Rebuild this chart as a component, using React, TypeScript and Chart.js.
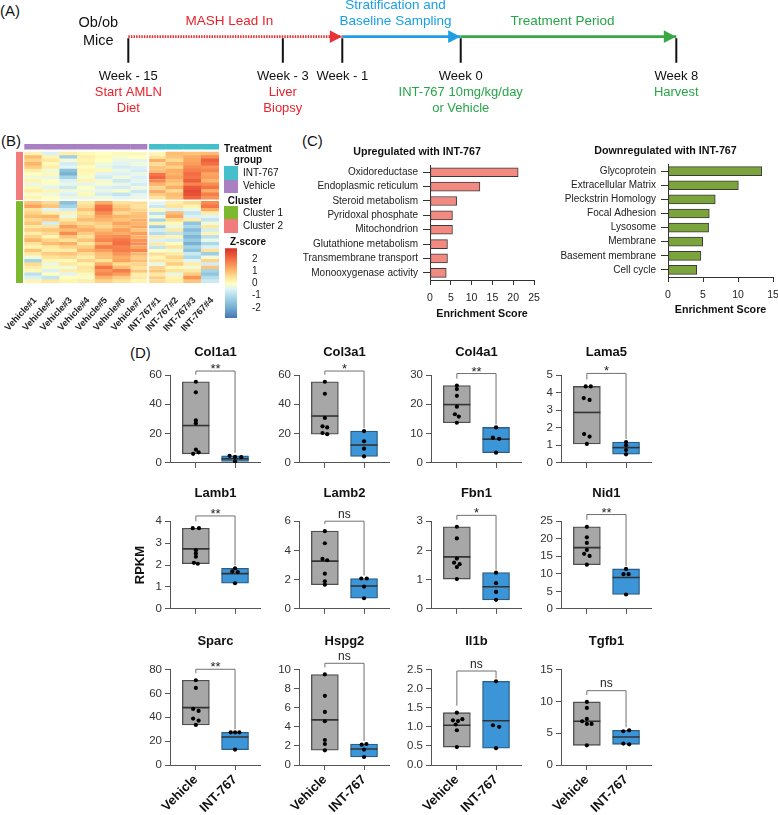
import React, { useEffect, useRef } from 'react';
import { Chart, registerables } from 'chart.js';

Chart.register(...registerables);

const FONT = 'Arial, "Liberation Sans", Helvetica, sans-serif';
Chart.defaults.font.family = FONT;
Chart.defaults.color = '#222';

// ---------------- Panel A : study timeline ----------------
const milestoneLabels = ['Week - 15', 'Week - 3', 'Week - 1', 'Week 0', 'Week 8'];
const milestoneSlot = [0, 28.2, 39.05, 60.66, 100];
const milestoneNotes = [['Start AMLN', 'Diet'], ['Liver', 'Biopsy'], [], ['INT-767 10mg/kg/day', 'or Vehicle'], ['Harvest']];
const milestoneNoteColor = ['#E8232B', '#E8232B', '#E8232B', '#27A548', '#27A548'];
const phaseLabels = [['MASH Lead In'], ['Stratification and', 'Baseline Sampling'], ['Treatment Period']];
const phaseStart = [0, 2, 3];
const phaseEnd = [2, 3, 4];
const phaseColors = ['#E8323A', '#1E9EE2', '#38A844'];
const phaseTextColors = ['#E8232B', '#1A9FE3', '#27A548'];

// ---------------- Panel B : heatmap ----------------
const sampleLabels = ['Vehicle#1', 'Vehicle#2', 'Vehicle#3', 'Vehicle#4', 'Vehicle#5', 'Vehicle#6', 'Vehicle#7', 'INT-767#1', 'INT-767#2', 'INT-767#3', 'INT-767#4'];
const sampleGroup = ['Vehicle', 'Vehicle', 'Vehicle', 'Vehicle', 'Vehicle', 'Vehicle', 'Vehicle', 'INT-767', 'INT-767', 'INT-767', 'INT-767'];
const groupColor: Record<string, string> = { 'Vehicle': '#A981C2', 'INT-767': '#45BFCA' };
const clusterColor = { c1: '#7DB92F', c2: '#F07C7C' };
// Cluster 2 (top block), rows top -> bottom, columns V1..V7, I1..I4
const cluster2Z = [
  [0.2, -0.5, 0.3, 0.1, 0.0, 0.1, 0.2, 0.2, 1.0, 0.9, 1.0],
  [1.0, 0.2, -1.3, 0.3, 0.1, -0.1, 0.0, 0.5, 0.9, 1.2, 1.6],
  [0.7, 0.4, -0.2, 0.2, 0.0, -0.3, -0.4, 1.2, 0.6, 1.3, 2.2],
  [1.1, 0.1, -0.6, 0.3, -0.2, -0.4, -0.2, 0.6, 1.1, 1.4, 2.0],
  [0.8, 0.3, -0.4, 0.0, -0.3, -0.6, -0.5, 0.9, 0.7, 1.6, 1.5],
  [0.3, -0.2, -1.6, 0.2, 0.1, -0.3, -0.6, 1.0, 1.2, 1.8, 1.7],
  [0.0, 0.1, -1.9, 0.1, -0.4, -0.5, -0.3, 1.9, 1.1, 2.0, 1.3],
  [-0.2, -0.3, -1.2, -0.1, -0.6, -0.2, -0.5, 2.1, 1.3, 1.9, 1.4],
  [0.2, 0.0, -0.5, 0.2, -0.2, -0.7, -0.4, 1.7, 1.0, 2.2, 1.1],
  [-0.3, -0.1, -0.3, -0.4, -0.1, -0.3, -0.6, 1.1, 0.8, 1.7, 1.6],
  [0.1, -0.4, -0.7, 0.0, -0.5, -0.6, -0.2, 0.7, 1.2, 2.3, 1.9],
  [0.3, 0.2, -0.2, -0.2, -0.3, -0.1, -0.7, 1.2, 0.6, 2.5, 1.2],
  [-0.1, -0.2, -0.5, 0.1, -0.6, -0.8, -0.4, 0.8, 1.0, 2.4, 1.8],
  [0.2, 0.0, -0.3, -0.3, -0.2, -0.4, -0.3, 0.5, 0.9, 2.1, 1.5],
];
// Cluster 1 (bottom block), rows top -> bottom
const cluster1Z = [
  [0.9, 0.6, -1.6, 0.4, 1.2, 0.5, 0.6, -0.4, 0.3, 0.6, 1.6],
  [1.3, 0.9, -1.2, 0.6, 1.9, 0.8, 0.5, -0.7, 0.5, 0.2, 1.9],
  [0.5, -0.4, -0.6, 0.9, 2.0, 1.0, 0.7, 0.1, -0.5, -0.3, 1.2],
  [0.7, 0.3, 0.2, 0.5, 1.6, 0.6, 0.9, -0.9, 1.0, -0.8, 0.3],
  [1.0, 1.1, -0.3, 0.7, 1.3, 1.1, 1.0, -0.2, 1.3, -0.5, -0.4],
  [0.6, 0.8, 0.4, 1.0, 1.1, 0.9, 1.2, -1.2, 0.6, 0.3, -0.8],
  [0.9, -0.6, 0.8, 0.6, 0.8, 1.3, 1.1, 0.2, 0.1, -1.5, -0.2],
  [0.4, 0.5, 1.4, 0.9, 0.6, 1.0, 1.3, -1.4, -0.3, -1.1, 0.4],
  [0.8, 0.9, 1.0, 1.2, 1.0, 1.4, 0.9, -0.6, 0.4, -1.7, -0.6],
  [0.3, 0.6, 1.6, 0.8, 1.3, 1.2, 1.4, -1.0, -0.8, -1.3, 0.2],
  [0.7, 0.2, 0.9, 0.5, 1.5, 1.6, 1.2, 0.3, 0.2, -1.8, -0.9],
  [1.1, 0.7, 0.5, 0.9, 1.7, 1.9, 1.5, -0.5, -0.6, -1.4, -0.3],
  [0.5, 1.0, 1.2, 0.4, 1.2, 2.0, 1.6, 0.4, 0.0, -1.9, -1.1],
  [0.2, 0.4, 0.7, 0.8, 1.8, 1.7, 1.3, -0.8, 0.5, -1.2, -0.5],
  [0.9, 0.3, 0.3, 1.1, 1.4, 1.8, 1.7, 0.0, -0.2, -1.6, 0.5],
  [0.4, 0.8, 0.9, 0.6, 1.0, 1.5, 1.1, 0.6, 0.3, -0.7, -1.3],
  [-0.2, 0.5, 0.6, 0.3, 0.9, 1.2, 0.8, 0.2, 0.7, -1.1, -0.2],
  [-1.2, 0.2, 0.1, 0.7, 0.5, 1.3, 1.0, 0.5, 0.4, -0.4, 0.7],
  [0.6, -0.3, 0.4, 0.2, 1.2, 0.6, 0.7, -0.3, 0.8, 0.3, -0.6],
  [0.3, 0.1, -0.2, 0.5, 1.9, 1.0, 0.5, 0.7, 0.1, -0.2, 0.9],
  [0.1, -0.5, 0.3, 0.4, 1.5, 1.8, 0.9, 0.9, 0.5, 0.4, -1.2],
  [-0.9, 0.0, -0.4, 0.1, 1.7, 1.4, 0.3, 0.4, -0.3, 0.8, -1.5],
  [-0.5, -0.8, 0.0, -0.1, 1.1, 0.8, 0.4, 0.8, 0.2, 1.5, -1.0],
  [0.2, 0.4, 0.2, 0.3, 0.7, 0.5, 0.2, 0.6, 0.3, 0.9, -0.7],
];
const zScaleRange = [-2.83, 2.88];
const zTicks = [-2, -1, 0, 1, 2];

// ---------------- Panel C : enrichment ----------------
const upTerms = ['Oxidoreductase', 'Endoplasmic reticulum', 'Steroid metabolism', 'Pyridoxal phosphate', 'Mitochondrion', 'Glutathione metabolism', 'Transmembrane transport', 'Monooxygenase activity'];
const upScores = [21.2, 12.0, 6.4, 5.4, 5.4, 4.2, 4.2, 3.9];
const downTerms = ['Glycoprotein', 'Extracellular Matrix', 'Pleckstrin Homology', 'Focal Adhesion', 'Lysosome', 'Membrane', 'Basement membrane', 'Cell cycle'];
const downScores = [13.4, 10.05, 6.75, 5.9, 5.8, 4.95, 4.7, 4.1];

// ---------------- Panel D : RPKM box plots ----------------
const genes = ['Col1a1', 'Col3a1', 'Col4a1', 'Lama5', 'Lamb1', 'Lamb2', 'Fbn1', 'Nid1', 'Sparc', 'Hspg2', 'Il1b', 'Tgfb1'];
const groups = ['Vehicle', 'INT-767'];
const vehicleRPKM = [
  [55.4, 48.2, 29, 27, 9, 7.2, 6.2],
  [55.4, 47.2, 30.7, 25, 24.2, 20.4, 19.6],
  [26.4, 25.2, 22.9, 19.2, 16.6, 15.8, 13.7],
  [4.35, 4.35, 3.69, 3.58, 1.64, 1.5, 1.08],
  [3.68, 3.68, 2.67, 2.53, 2.38, 2.1, 2.06],
  [5.32, 4.49, 3.42, 3.33, 2.41, 1.89, 1.66],
  [2.81, 2.41, 1.72, 1.58, 1.53, 1.43, 1.02],
  [23.4, 20.4, 18.8, 16.8, 15.7, 15.1, 12.6],
  [71, 64.6, 47, 45.3, 38.9, 37.2, 33.6],
  [9.48, 7.24, 5.56, 4.58, 2.62, 2.2, 1.54],
  [1.37, 1.2, 1.17, 1.15, 1.06, 0.91, 0.47],
  [9.91, 8.97, 7.24, 6.87, 6.45, 6.45, 3.09],
];
const int767RPKM = [
  [4.8, 4.1, 3.9, 1.0],
  [21.7, 14.7, 9.7, 4.4],
  [12.1, 8.6, 8.2, 3.5],
  [1.19, 1.0, 0.73, 0.49],
  [1.85, 1.71, 1.68, 1.17],
  [2.08, 2.08, 1.53, 0.73],
  [1.24, 0.88, 0.58, 0.31],
  [11.4, 9.9, 9.9, 4.1],
  [27.4, 27.4, 27.4, 12.9],
  [2.2, 2.13, 1.61, 0.84],
  [2.19, 1.04, 1.0, 0.44],
  [5.45, 5.3, 3.36, 3.25],
];
const vehicleMean = [25.5, 32, 19.9, 2.87, 2.74, 3.27, 1.78, 17.47, 48.1, 4.72, 1.04, 6.87];
const int767Mean = [2.8, 12.2, 8.1, 0.87, 1.61, 1.57, 0.76, 8.95, 23.5, 1.68, 1.16, 4.4];
const vehicleJitter = [
  [0, 0, 0, 0, 0, 0.07, -0.07],
  [0, 0, 0, -0.06, 0.06, -0.06, 0.06],
  [0, 0, 0, 0, -0.05, 0.05, 0],
  [-0.03, 0.1, -0.08, 0.07, -0.07, 0.07, 0],
  [-0.08, 0.08, 0, 0, 0, -0.05, 0.05],
  [0, 0, -0.06, 0.06, 0, 0, 0],
  [0, 0, 0, -0.07, 0.07, 0, 0],
  [0, 0, 0, 0, -0.07, 0.07, 0],
  [0, 0, -0.07, 0.07, -0.07, 0.07, 0],
  [0, 0, 0, 0, 0, 0, 0],
  [0, 0.14, -0.1, 0.03, -0.03, 0, 0],
  [0, 0, 0, -0.12, 0, 0.12, 0],
];
const int767Jitter = [
  [-0.14, 0, 0.16, 0],
  [0, 0, 0, 0],
  [0, -0.08, 0.08, 0],
  [0, 0, 0, 0],
  [0, -0.07, 0.07, 0],
  [-0.07, 0.07, 0, 0],
  [0, 0, 0, 0],
  [0, -0.065, 0.065, 0],
  [-0.11, 0, 0.11, 0],
  [0.06, -0.06, 0, 0],
  [0, -0.08, 0.08, 0],
  [0.08, -0.07, -0.07, 0.08],
];
const yAxisMax = [60, 60, 30, 5, 4, 6, 3, 25, 80, 10, 2.5, 15];
const yAxisStep = [20, 20, 10, 1, 1, 2, 1, 5, 20, 2, 0.5, 5];
const yTickDecimals = [0, 0, 0, 0, 0, 0, 0, 0, 0, 0, 1, 0];
const sigLabels = ['**', '*', '**', '*', '**', 'ns', '*', '**', '**', 'ns', 'ns', 'ns'];
const sigHeight = [62.7, 62.7, 30.5, 5.09, 4.24, 6.0, 3.2, 26.9, 80.2, 10.65, 2.46, 11.67];

// ---------------- helpers ----------------
const zStops: [number, string][] = [
  [-2.83, '#4575B4'], [-2, '#74ADD1'], [-1.1, '#ABD9E9'], [-0.45, '#E0F3F8'], [0, '#FFFFBF'],
  [0.5, '#FEE39A'], [1.1, '#FDB56A'], [2, '#F46D43'], [2.88, '#D73027'],
];
function hexRgb(h: string) {
  return [parseInt(h.slice(1, 3), 16), parseInt(h.slice(3, 5), 16), parseInt(h.slice(5, 7), 16)];
}
function zColor(z: number) {
  const v = Math.max(zStops[0][0], Math.min(zStops[zStops.length - 1][0], z));
  for (let k = 0; k < zStops.length - 1; k++) {
    const [a, ca] = zStops[k];
    const [b, cb] = zStops[k + 1];
    if (v >= a && v <= b) {
      const t = (v - a) / (b - a);
      const A = hexRgb(ca), B = hexRgb(cb);
      return `rgb(${Math.round(A[0] + (B[0] - A[0]) * t)},${Math.round(A[1] + (B[1] - A[1]) * t)},${Math.round(A[2] + (B[2] - A[2]) * t)})`;
    }
  }
  return zStops[0][1];
}

function ChartCanvas({ x, y, w, h, make }: any) {
  const ref = useRef<HTMLCanvasElement>(null);
  useEffect(() => {
    const chart = new Chart(ref.current as HTMLCanvasElement, make());
    return () => chart.destroy();
  }, []);
  return <canvas ref={ref} width={w} height={h} style={{ position: 'absolute', left: x, top: y, width: w, height: h }} />;
}

function Txt({ x, y, s, b, c, a, children }: any) {
  const style: any = {
    position: 'absolute', top: y - s * 0.6, fontSize: s, lineHeight: `${s * 1.2}px`,
    fontWeight: b ? 'bold' : 'normal', color: c || '#111', whiteSpace: 'nowrap', fontFamily: FONT,
  };
  if (a === 'center') { style.left = x - 150; style.width = 300; style.textAlign = 'center'; }
  else style.left = x;
  return <div style={style}>{children}</div>;
}

const noLegend = { legend: { display: false }, tooltip: { enabled: false } };

// ---------------- Panel A config ----------------
function timelineConfig() {
  const plugin = {
    id: 'timelineDeco',
    afterDatasetsDraw(chart: any) {
      const { ctx } = chart;
      const xs = chart.scales.x, ys = chart.scales.y;
      const y0 = ys.getPixelForValue(0);
      ctx.save();
      phaseEnd.forEach((e, k) => {
        const tip = xs.getPixelForValue(milestoneSlot[e]) - 0.5;
        ctx.fillStyle = phaseColors[k];
        ctx.beginPath();
        ctx.moveTo(tip, y0);
        ctx.lineTo(tip - 12, y0 - 6.3);
        ctx.lineTo(tip - 12, y0 + 6.3);
        ctx.closePath();
        ctx.fill();
      });
      ctx.textAlign = 'center';
      ctx.textBaseline = 'middle';
      phaseLabels.forEach((lines, k) => {
        const cx = (xs.getPixelForValue(milestoneSlot[phaseStart[k]]) + xs.getPixelForValue(milestoneSlot[phaseEnd[k]]) - 12) / 2;
        ctx.font = `13.5px ${FONT}`;
        ctx.fillStyle = phaseTextColors[k];
        lines.forEach((t, j) => ctx.fillText(t, cx, y0 - 15 - (lines.length - 1 - j) * 16.6));
      });
      milestoneLabels.forEach((t, m) => {
        const cx = xs.getPixelForValue(milestoneSlot[m]);
        ctx.font = `13px ${FONT}`;
        ctx.fillStyle = '#111';
        ctx.fillText(t, cx, y0 + 40);
        ctx.fillStyle = milestoneNoteColor[m];
        milestoneNotes[m].forEach((n, j) => ctx.fillText(n, cx, y0 + 55.7 + j * 16));
      });
      const sx = xs.getPixelForValue(milestoneSlot[0]);
      ctx.font = `14.5px ${FONT}`;
      ctx.fillStyle = '#111';
      ctx.fillText('Ob/ob', sx - 30, y0 - 14);
      ctx.fillText('Mice', sx - 30, y0 + 4);
      ctx.restore();
    },
  };
  return {
    type: 'line',
    data: {
      datasets: [
        ...phaseStart.map((s, k) => ({
          data: [{ x: milestoneSlot[s], y: 0 }, { x: milestoneSlot[phaseEnd[k]], y: 0 }],
          borderColor: phaseColors[k], borderWidth: 2.6, borderDash: k === 0 ? [1.5, 1.1] : [],
          pointRadius: 0, clip: false, tension: 0,
        })),
        ...milestoneSlot.map((s) => ({
          data: [{ x: s, y: -0.06 }, { x: s, y: -1 }],
          borderColor: '#111', borderWidth: 2, pointRadius: 0, clip: false,
        })),
      ],
    },
    options: {
      responsive: false, animation: false, events: [],
      layout: { padding: { left: 128.3, right: 101.7, top: 0, bottom: 0 } },
      plugins: noLegend,
      scales: {
        x: { type: 'linear', display: false, min: 0, max: 100 },
        y: { type: 'linear', display: false, min: -3.4, max: 1.41 },
      },
    },
    plugins: [plugin],
  };
}

// ---------------- Panel B configs ----------------
const HM_AXIS = 48;
const HM_CANVAS_H = 187;
const GAP_MID = 0.5, GAP_TOP = 0.65, ANNOT_H = 1.75;
const HM_TOTAL = cluster1Z.length + GAP_MID + cluster2Z.length + GAP_TOP + ANNOT_H;

function heatmapConfig() {
  const datasets: any[] = [];
  const cellBorder = (c: any) => (c.dataIndex === 6 ? { right: 1.2 } : c.dataIndex === 7 ? { left: 1.2 } : 0);
  const common = { stack: 'h', barPercentage: 1, categoryPercentage: 1, borderColor: '#ffffff', borderWidth: cellBorder, borderSkipped: false };
  const pushBlock = (Z: number[][]) => {
    for (let r = Z.length - 1; r >= 0; r--) {
      datasets.push({ ...common, data: Z[r].map(() => 1), backgroundColor: Z[r].map(zColor) });
    }
  };
  pushBlock(cluster1Z);
  datasets.push({ ...common, borderWidth: 0, data: sampleLabels.map(() => GAP_MID), backgroundColor: '#ffffff' });
  pushBlock(cluster2Z);
  datasets.push({ ...common, borderWidth: 0, data: sampleLabels.map(() => GAP_TOP), backgroundColor: '#ffffff' });
  datasets.push({ ...common, data: sampleLabels.map(() => ANNOT_H), backgroundColor: sampleGroup.map((g) => groupColor[g]) });
  return {
    type: 'bar',
    data: { labels: sampleLabels, datasets },
    options: {
      responsive: false, animation: false, events: [],
      layout: { padding: { left: 24.3, right: 3, top: 0, bottom: 0 } },
      plugins: noLegend,
      scales: {
        x: {
          stacked: true,
          grid: { display: false }, border: { display: false },
          ticks: { autoSkip: false, minRotation: 47, maxRotation: 47, padding: 4, labelOffset: 2, font: { size: 9.2, weight: 'bold' }, color: '#222' },
          afterFit: (s: any) => { s.height = HM_AXIS; s.paddingLeft = 0; s.paddingRight = 0; },
        },
        y: { stacked: true, display: false, min: 0, max: HM_TOTAL },
      },
    },
  };
}

function clusterBarConfig() {
  const common = { stack: 'c', barPercentage: 1, categoryPercentage: 1, borderWidth: 0 };
  return {
    type: 'bar',
    data: {
      labels: ['cluster'],
      datasets: [
        { ...common, data: [cluster1Z.length], backgroundColor: clusterColor.c1 },
        { ...common, data: [GAP_MID], backgroundColor: 'rgba(0,0,0,0)' },
        { ...common, data: [cluster2Z.length], backgroundColor: clusterColor.c2 },
      ],
    },
    options: {
      responsive: false, animation: false, events: [],
      layout: { padding: { left: 0, right: 0, top: 0, bottom: HM_AXIS } },
      plugins: noLegend,
      scales: { x: { stacked: true, display: false }, y: { stacked: true, display: false, min: 0, max: HM_TOTAL } },
    },
  };
}

function zLegendConfig() {
  return {
    type: 'bar',
    data: {
      labels: ['Z-score'],
      datasets: [{
        data: [[zScaleRange[0], zScaleRange[1]]],
        barPercentage: 1, categoryPercentage: 1, borderWidth: 0,
        backgroundColor: (c: any) => {
          const chart = c.chart;
          if (!chart.chartArea) return '#ccc';
          const ys = chart.scales.y;
          const top = ys.getPixelForValue(zScaleRange[1]);
          const bot = ys.getPixelForValue(zScaleRange[0]);
          const g = chart.ctx.createLinearGradient(0, bot, 0, top);
          zStops.forEach(([z, col]) => g.addColorStop((z - zScaleRange[0]) / (zScaleRange[1] - zScaleRange[0]), col));
          return g;
        },
      }],
    },
    options: {
      responsive: false, animation: false, events: [],
      layout: { padding: { left: 3, right: 0, top: 3.3, bottom: 3 } },
      plugins: noLegend,
      scales: {
        x: { display: false },
        y: {
          position: 'right', min: zScaleRange[0], max: zScaleRange[1],
          afterBuildTicks: (s: any) => { s.ticks = zTicks.map((v) => ({ value: v })); },
          ticks: { font: { size: 10 }, color: '#222', padding: 7 },
          grid: { display: false }, border: { display: false },
          afterFit: (s: any) => { s.width = 25; s.paddingTop = 0; s.paddingBottom = 0; },
        },
      },
    },
  };
}

// ---------------- Panel C configs ----------------
function enrichConfig(terms: string[], scores: number[], fill: string, title: string, xMax: number, yW: number, padR: number, xH: number) {
  return {
    type: 'bar',
    data: { labels: terms, datasets: [{ data: scores, backgroundColor: fill, borderColor: '#3a3a3a', borderWidth: 1, borderSkipped: false, barThickness: 9 }] },
    options: {
      indexAxis: 'y', responsive: false, animation: false, events: [],
      layout: { padding: { left: 0, right: padR, top: 0, bottom: 0 } },
      plugins: {
        ...noLegend,
        title: { display: true, text: title, color: '#111', font: { size: 10.7, weight: 'bold' }, padding: { top: 4, bottom: 6.2 } },
      },
      scales: {
        x: {
          min: 0, max: xMax,
          ticks: { stepSize: 5, font: { size: 10.5 }, color: '#222', padding: 7 },
          grid: { drawOnChartArea: false, drawTicks: true, tickLength: 5, color: '#333' },
          border: { display: true, color: '#333' },
          title: { display: true, text: 'Enrichment Score', color: '#111', font: { size: 10.7, weight: 'bold' }, padding: 0 },
          afterFit: (s: any) => { s.height = xH; s.paddingLeft = 0; s.paddingRight = 0; },
        },
        y: {
          ticks: { autoSkip: false, font: { size: 10 }, color: '#222', padding: 5 },
          grid: { offset: false, drawOnChartArea: false, drawTicks: true, tickLength: 7, color: '#333' },
          border: { display: true, color: '#333' },
          afterFit: (s: any) => { s.width = yW; s.paddingTop = 0; s.paddingBottom = 0; },
        },
      },
    },
  };
}

// ---------------- Panel D configs ----------------
const AXIS_W = 45;
const PLOT_W = 94;
const PAD_R = 12;
const colAxisX = [170, 299, 430.5, 561];
const rowCanvasTop = [340, 480.5, 629];
const rowTitlePadBottom = [15.2, 20.4, 20.7];
const rowCanvasH = [138, 143, 186];
const rowAxisH = [8, 8, 50];

function boxConfig(i: number) {
  const row = Math.floor(i / 4);
  const veh = vehicleRPKM[i], trt = int767RPKM[i];
  const vMin = Math.min(...veh), vMax = Math.max(...veh);
  const tMin = Math.min(...trt), tMax = Math.max(...trt);
  const bottom = row === 2;
  const sigPlugin = {
    id: 'sig' + i,
    afterDatasetsDraw(chart: any) {
      const { ctx } = chart;
      const xs = chart.scales.x, ys = chart.scales.y;
      const x0 = xs.getPixelForValue(0), x1 = xs.getPixelForValue(1);
      const yt = ys.getPixelForValue(sigHeight[i]);
      const yl = Math.max(yt + 2, ys.getPixelForValue(vMax) - 7);
      const yr = Math.max(yt + 2, ys.getPixelForValue(tMax) - 3);
      ctx.save();
      ctx.strokeStyle = '#707070';
      ctx.lineWidth = 1;
      ctx.beginPath();
      ctx.moveTo(x0, yl); ctx.lineTo(x0, yt); ctx.lineTo(x1, yt); ctx.lineTo(x1, yr);
      ctx.stroke();
      const ns = sigLabels[i] === 'ns';
      ctx.fillStyle = '#222';
      ctx.textAlign = 'center';
      ctx.textBaseline = 'alphabetic';
      ctx.font = `${ns ? 12 : 13}px ${FONT}`;
      ctx.fillText(sigLabels[i], (x0 + x1) / 2, ns ? yt - 3.5 : yt + 2);
      ctx.restore();
    },
  };
  const dots = [
    ...veh.map((v, k) => ({ x: vehicleJitter[i][k], y: v })),
    ...trt.map((v, k) => ({ x: 1 + int767Jitter[i][k], y: v })),
  ];
  return {
    type: 'bar',
    data: {
      datasets: [
        {
          type: 'bar', order: 3,
          data: [{ x: 0, y: [vMin, vMax] }, { x: 1, y: [tMin, tMax] }],
          backgroundColor: ['#A7A7A7', '#3C95D6'], borderColor: ['#4f4f4f', '#2B5E86'],
          borderWidth: 1.3, borderSkipped: false, barThickness: 27,
        },
        {
          type: 'scatter', order: 2,
          data: [{ x: 0, y: vehicleMean[i] }, { x: 1, y: int767Mean[i] }],
          pointStyle: 'line', pointRadius: 13.5, borderColor: '#333', borderWidth: 1.6, pointBorderWidth: 1.6, pointBorderColor: '#333',
        },
        {
          type: 'scatter', order: 1, data: dots,
          pointRadius: 2.1, pointBackgroundColor: '#000', pointBorderWidth: 0, backgroundColor: '#000',
        },
      ],
    },
    options: {
      responsive: false, animation: false, events: [],
      layout: { padding: { left: 0, right: PAD_R, top: 0, bottom: 0 } },
      plugins: {
        ...noLegend,
        title: {
          display: true, text: genes[i], fullSize: false, color: '#111',
          font: { size: 13, weight: 'bold' }, padding: { top: 4.2, bottom: rowTitlePadBottom[row] },
        },
      },
      scales: {
        x: {
          type: 'linear', min: -0.66, max: 1.66, offset: false,
          afterBuildTicks: (s: any) => { s.ticks = [{ value: 0 }, { value: 1 }]; },
          grid: { offset: false, drawOnChartArea: false, drawTicks: true, tickLength: 5, color: '#555' },
          border: { display: true, color: '#555' },
          ticks: {
            display: bottom, autoSkip: false, minRotation: 45, maxRotation: 45, padding: 2,
            font: { size: 13, weight: 'bold' }, color: '#111',
            callback: (v: any) => groups[Math.round(v)],
          },
          afterFit: (s: any) => { s.height = rowAxisH[row]; s.paddingLeft = 0; s.paddingRight = 0; },
        },
        y: {
          min: 0, max: yAxisMax[i],
          ticks: {
            stepSize: yAxisStep[i], font: { size: 11.5 }, color: '#333', padding: 3,
            callback: (v: any) => Number(v).toFixed(yTickDecimals[i]),
          },
          grid: { drawOnChartArea: false, drawTicks: true, tickLength: 5, color: '#555' },
          border: { display: true, color: '#555' },
          title: i === 4
            ? { display: true, text: 'RPKM', color: '#111', font: { size: 13, weight: 'bold' }, padding: { top: 7.2, bottom: 0 } }
            : { display: false },
          afterFit: (s: any) => { s.width = AXIS_W; s.paddingTop = 0; s.paddingBottom = 0; },
        },
      },
    },
    plugins: [sigPlugin],
  };
}

export default function App() {
  return (
    <div style={{ position: 'absolute', left: 0, top: 0, width: 778, height: 815, background: '#fff', overflow: 'hidden', fontFamily: FONT }}>
      {/* Panel letters */}
      <Txt x={0} y={10.5} s={15}>(A)</Txt>
      <Txt x={1} y={141} s={15}>(B)</Txt>
      <Txt x={302} y={141} s={15}>(C)</Txt>
      <Txt x={130} y={352.5} s={15}>(D)</Txt>

      {/* Panel A */}
      <ChartCanvas x={0} y={0} w={778} h={125} make={timelineConfig} />

      {/* Panel B */}
      <ChartCanvas x={0} y={144} w={222} h={HM_CANVAS_H} make={heatmapConfig} />
      <ChartCanvas x={16} y={144} w={7} h={HM_CANVAS_H} make={clusterBarConfig} />
      <ChartCanvas x={222} y={245} w={40} h={76} make={zLegendConfig} />
      <Txt x={248} y={149} s={10} b a="center">Treatment</Txt>
      <Txt x={248} y={159.5} s={10} b a="center">group</Txt>
      <div style={{ position: 'absolute', left: 224, top: 166.3, width: 13.5, height: 13.4, background: groupColor['INT-767'] }} />
      <div style={{ position: 'absolute', left: 224, top: 179.7, width: 13.5, height: 13.4, background: groupColor['Vehicle'] }} />
      <Txt x={243} y={173} s={10}>INT-767</Txt>
      <Txt x={243} y={186.4} s={10}>Vehicle</Txt>
      <Txt x={245} y={200.7} s={10} b a="center">Cluster</Txt>
      <div style={{ position: 'absolute', left: 224, top: 206, width: 13.5, height: 13.4, background: clusterColor.c1 }} />
      <div style={{ position: 'absolute', left: 224, top: 219.4, width: 13.5, height: 13.4, background: clusterColor.c2 }} />
      <Txt x={243} y={212.7} s={10}>Cluster 1</Txt>
      <Txt x={243} y={226.1} s={10}>Cluster 2</Txt>
      <Txt x={248} y={242.3} s={10} b a="center">Z-score</Txt>

      {/* Panel C */}
      <ChartCanvas x={300} y={142} w={260} h={178}
        make={() => enrichConfig(upTerms, upScores, '#F28A82', 'Upregulated with INT-767', 25, 130, 26, 40)} />
      <ChartCanvas x={558} y={141} w={220} h={175}
        make={() => enrichConfig(downTerms, downScores, '#7CA43C', 'Downregulated with INT-767', 15, 110, 5, 39)} />

      {/* Panel D */}
      {genes.map((g, i) => {
        const row = Math.floor(i / 4), col = i % 4;
        return (
          <ChartCanvas key={g} x={colAxisX[col] - AXIS_W} y={rowCanvasTop[row]} w={AXIS_W + PLOT_W + PAD_R} h={rowCanvasH[row]}
            make={() => boxConfig(i)} />
        );
      })}
    </div>
  );
}
